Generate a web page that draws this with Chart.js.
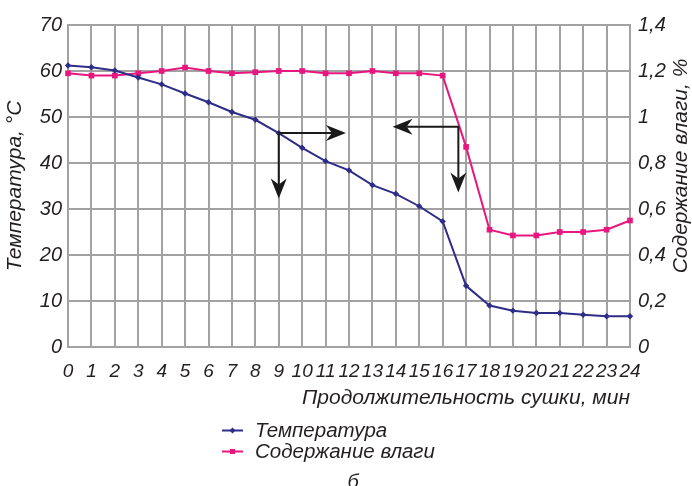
<!DOCTYPE html>
<html>
<head>
<meta charset="utf-8">
<script src="https://cdn.jsdelivr.net/npm/chart.js@4/dist/chart.umd.min.js"></script>
<style>
  html, body { margin: 0; padding: 0; background: #fff; }
  #wrap { width: 692px; height: 486px; }
</style>
</head>
<body>
<div id="wrap"><canvas id="chart" width="692" height="486"></canvas></div>
<script>
// Drying time, minutes
const minutes = ['0','1','2','3','4','5','6','7','8','9','10','11','12',
                 '13','14','15','16','17','18','19','20','21','22','23','24'];
// Temperature, °C
const temperature = [61.2, 60.8, 60.1, 58.6, 57.1, 55.1, 53.2, 51.1, 49.4, 46.5,
                     43.3, 40.4, 38.4, 35.2, 33.3, 30.6, 27.3, 13.3, 9.0, 7.9,
                     7.4, 7.4, 7.0, 6.7, 6.7];
// Moisture content, %
const moisture = [1.19, 1.18, 1.18, 1.19, 1.20, 1.215, 1.20, 1.19, 1.195, 1.20,
                  1.20, 1.19, 1.19, 1.20, 1.19, 1.19, 1.18, 0.87, 0.51, 0.485,
                  0.485, 0.50, 0.50, 0.51, 0.55];
// Axis ranges and tick steps
const tempTicks = [0, 70, 10];
const moistTicks = [0, 1.4, 0.2];
// Reading arrows: corner point, horizontal tip (minutes), vertical tip (°C)
const arrowCorner = [[9, 46.5], [16.67, 47.9]];
const arrowHorizTip = [11.87, 13.86];
const arrowVertTip = [32.3, 33.6];

const FONT = "'Liberation Sans', Arial, sans-serif";
const INK = '#231f20';
const GRID = '#a2a2a2';

function arrowHead(ctx, x, y, angle, len, half, notch) {
  ctx.save();
  ctx.translate(x, y);
  ctx.rotate(angle);
  ctx.beginPath();
  ctx.moveTo(0, 0);
  ctx.lineTo(-len, -half);
  ctx.lineTo(-len + notch, 0);
  ctx.lineTo(-len, half);
  ctx.closePath();
  ctx.fill();
  ctx.restore();
}

const decorPlugin = {
  id: 'decor',
  afterDatasetsDraw(chart) {
    const ctx = chart.ctx;
    const xs = chart.scales.x, ys = chart.scales.y;
    ctx.save();
    ctx.strokeStyle = '#1a1a1a';
    ctx.fillStyle = '#1a1a1a';
    ctx.lineWidth = 2;
    arrowCorner.forEach((c, i) => {
      const cx = xs.getPixelForValue(c[0]);
      const cy = ys.getPixelForValue(c[1]);
      const hx = xs.getPixelForValue(arrowHorizTip[i]);
      const vy = ys.getPixelForValue(arrowVertTip[i]);
      const dir = hx > cx ? 1 : -1;
      ctx.beginPath();
      ctx.moveTo(hx - dir * 14, cy);
      ctx.lineTo(cx, cy);
      ctx.lineTo(cx, vy - 14);
      ctx.stroke();
      arrowHead(ctx, hx, cy, dir > 0 ? 0 : Math.PI, 20, 8, 6);
      arrowHead(ctx, cx, vy, Math.PI / 2, 20, 8, 6);
    });
    ctx.restore();
  },
  afterDraw(chart) {
    const ctx = chart.ctx;
    ctx.save();
    ctx.fillStyle = INK;
    // right axis title
    ctx.font = `italic 21px ${FONT}`;
    ctx.translate(681, 166);
    ctx.rotate(-Math.PI / 2);
    ctx.textAlign = 'center';
    ctx.textBaseline = 'middle';
    ctx.fillText('Содержание влаги, %', 0, 0);
    ctx.restore();

    // legend
    ctx.save();
    const rows = [430.5, 451.5];
    chart.data.datasets.forEach((ds, i) => {
      const y = rows[i];
      ctx.strokeStyle = ds.borderColor;
      ctx.lineWidth = 2;
      ctx.beginPath();
      ctx.moveTo(222, y);
      ctx.lineTo(243, y);
      ctx.stroke();
      ctx.fillStyle = ds.pointBackgroundColor;
      if (ds.pointStyle === 'rect') {
        ctx.fillRect(230, y - 2.5, 5, 5);
      } else {
        ctx.beginPath();
        ctx.moveTo(232.5, y - 3); ctx.lineTo(235.5, y); ctx.lineTo(232.5, y + 3); ctx.lineTo(229.5, y);
        ctx.closePath(); ctx.fill();
      }
      ctx.fillStyle = INK;
      ctx.font = `italic 20.5px ${FONT}`;
      ctx.textAlign = 'left';
      ctx.textBaseline = 'middle';
      ctx.fillText(ds.label, 255, y + 1);
    });
    ctx.font = `italic 20px ${FONT}`;
    ctx.textAlign = 'center';
    ctx.textBaseline = 'alphabetic';
    ctx.fillText('б', 353, 488);
    ctx.restore();
  }
};

new Chart(document.getElementById('chart'), {
  type: 'line',
  data: {
    labels: minutes,
    datasets: [
      {
        label: 'Температура',
        data: temperature,
        yAxisID: 'y',
        borderColor: '#2e2d88',
        backgroundColor: '#2e2d88',
        pointBackgroundColor: '#2e2d88',
        pointBorderWidth: 0,
        borderWidth: 2,
        pointStyle: 'rectRot',
        pointRadius: 3.2,
        tension: 0
      },
      {
        label: 'Содержание влаги',
        data: moisture,
        yAxisID: 'y2',
        borderColor: '#e8177f',
        backgroundColor: '#e8177f',
        pointBackgroundColor: '#e8177f',
        pointBorderWidth: 0,
        borderWidth: 2,
        pointStyle: 'rect',
        pointRadius: 4,
        tension: 0
      }
    ]
  },
  options: {
    responsive: false,
    animation: false,
    devicePixelRatio: 1,
    layout: { padding: { top: 25, bottom: 75, left: 0, right: 0 } },
    plugins: { legend: { display: false }, tooltip: { enabled: false } },
    scales: {
      x: {
        type: 'category',
        offset: false,
        grid: { color: GRID, lineWidth: 2, drawTicks: false },
        border: { color: GRID, width: 2 },
        ticks: { color: INK, font: { family: FONT, size: 19, style: 'italic' }, padding: 13, maxRotation: 0, autoSkip: false },
        title: { display: true, text: 'Продолжительность сушки, мин', align: 'end', color: INK,
                 font: { family: FONT, size: 21, style: 'italic' }, padding: { top: 0, bottom: 0 } },
        afterFit(s) { s.height = 64; }
      },
      y: {
        position: 'left',
        min: tempTicks[0], max: tempTicks[1],
        grid: { color: GRID, lineWidth: 2, drawTicks: false },
        border: { color: GRID, width: 2 },
        ticks: { stepSize: tempTicks[2], color: INK, font: { family: FONT, size: 20, style: 'italic' }, padding: 6 },
        title: { display: true, text: 'Температура, °C', color: INK,
                 font: { family: FONT, size: 21, style: 'italic' }, padding: { top: 3, bottom: 0 } },
        afterFit(s) { s.width = 68; }
      },
      y2: {
        position: 'right',
        min: moistTicks[0], max: moistTicks[1],
        grid: { drawOnChartArea: false, drawTicks: false },
        border: { color: GRID, width: 2 },
        ticks: { stepSize: moistTicks[2], color: INK, font: { family: FONT, size: 20, style: 'italic' }, padding: 8,
                 callback: v => String(Math.round(v * 10) / 10).replace('.', ',') },
        afterFit(s) { s.width = 62; }
      }
    }
  },
  plugins: [decorPlugin]
});
</script>
</body>
</html>
